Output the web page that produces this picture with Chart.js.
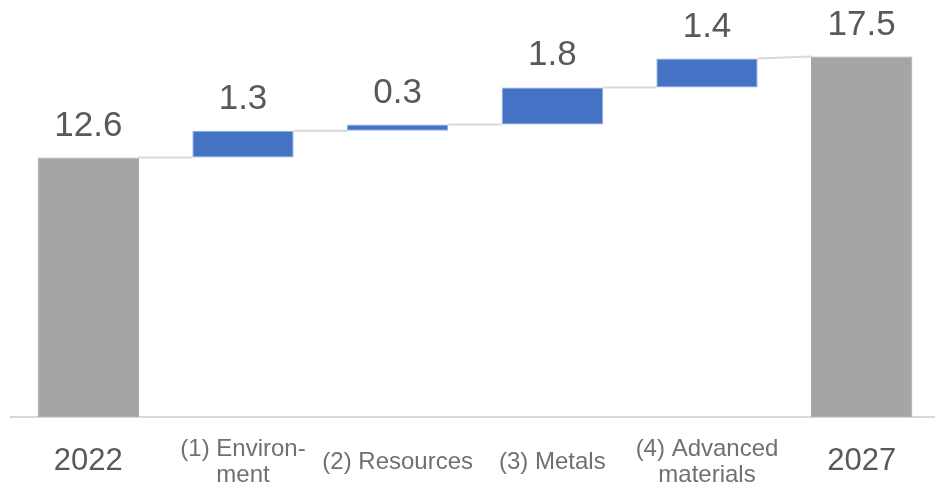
<!DOCTYPE html>
<html>
<head>
<meta charset="utf-8">
<script src="https://cdn.jsdelivr.net/npm/chart.js@4/dist/chart.umd.min.js"></script>
<style>
  html, body { margin: 0; padding: 0; background: #ffffff; overflow: hidden; }
  #wrap { position: relative; width: 940px; height: 534px; }
</style>
</head>
<body>
<div id="wrap"><canvas id="chart"></canvas></div>
<script>
// Waterfall: starting total, segment increments, ending total
const categories = [
  '2022',
  ['(1) Environ-', 'ment'],
  '(2) Resources',
  '(3) Metals',
  ['(4) Advanced', 'materials'],
  '2027'
];
const startTotal = 12.6;
const increments = [1.3, 0.3, 1.8, 1.4];
const endTotal = 17.5;

const totalColor = '#a5a5a5';
const stepColor = '#4472c4';

// Build floating [low, high] ranges for each bar
const ranges = [[0, startTotal]];
const shownValues = [startTotal];
let running = startTotal;
increments.forEach(v => {
  const next = Math.round((running + v) * 10) / 10;
  ranges.push([running, next]);
  shownValues.push(v);
  running = next;
});
ranges.push([0, endTotal]);
shownValues.push(endTotal);

const colors = ranges.map((r, i) => (i === 0 || i === ranges.length - 1) ? totalColor : stepColor);

// Thin connectors between neighbouring bars
const connectorPlugin = {
  id: 'connectors',
  beforeDatasetsDraw(chart) {
    const meta = chart.getDatasetMeta(0);
    const y = chart.scales.y;
    const ctx = chart.ctx;
    ctx.save();
    ctx.strokeStyle = '#d9d9d9';
    ctx.lineWidth = 2;
    for (let i = 0; i < meta.data.length - 1; i++) {
      const a = meta.data[i];
      const b = meta.data[i + 1];
      const fromY = y.getPixelForValue(ranges[i][1]);
      const toVal = (i + 1 === ranges.length - 1) ? ranges[i + 1][1] : ranges[i + 1][0];
      const toY = y.getPixelForValue(toVal);
      ctx.beginPath();
      ctx.moveTo(a.x + a.width / 2, fromY);
      ctx.lineTo(b.x - b.width / 2, toY);
      ctx.stroke();
    }
    ctx.restore();
  }
};

// Value labels above each bar
const valueLabelPlugin = {
  id: 'valueLabels',
  afterDatasetsDraw(chart) {
    const meta = chart.getDatasetMeta(0);
    const ctx = chart.ctx;
    ctx.save();
    ctx.fillStyle = '#595959';
    ctx.font = '35px "Liberation Sans", Arial, sans-serif';
    ctx.textAlign = 'center';
    ctx.textBaseline = 'alphabetic';
    meta.data.forEach((bar, i) => {
      const top = Math.min(bar.y, bar.base);
      ctx.fillText(shownValues[i].toFixed(1), bar.x, top - 22);
    });
    ctx.restore();
  }
};

const isTotal = (i) => i === 0 || i === categories.length - 1;

new Chart(document.getElementById('chart'), {
  type: 'bar',
  data: {
    labels: categories,
    datasets: [{
      data: ranges,
      backgroundColor: colors,
      borderColor: colors.map(c => c === stepColor ? '#8fa9dc' : totalColor),
      borderWidth: 1,
      borderSkipped: false,
      categoryPercentage: 1,
      barPercentage: 0.655
    }]
  },
  options: {
    responsive: true,
    maintainAspectRatio: false,
    animation: false,
    layout: { padding: { left: 11, right: 1, top: 5, bottom: 0 } },
    plugins: {
      legend: { display: false },
      tooltip: { enabled: false }
    },
    scales: {
      x: {
        grid: { display: false, drawTicks: false },
        border: { display: true, color: '#d9d9d9', width: 2 },
        ticks: {
          padding: 32,
          maxRotation: 0,
          autoSkip: false,
          crossAlign: 'center',
          color: (ctx) => isTotal(ctx.index) ? '#595959' : '#707070',
          font: (ctx) => isTotal(ctx.index)
            ? { family: '"Liberation Sans", Arial, sans-serif', size: 31, lineHeight: 0.9 }
            : { family: '"Liberation Sans", Arial, sans-serif', size: 24, lineHeight: 1.1 }
        }
      },
      y: {
        display: false,
        min: 0,
        max: 20
      }
    }
  },
  plugins: [connectorPlugin, valueLabelPlugin]
});
</script>
</body>
</html>
